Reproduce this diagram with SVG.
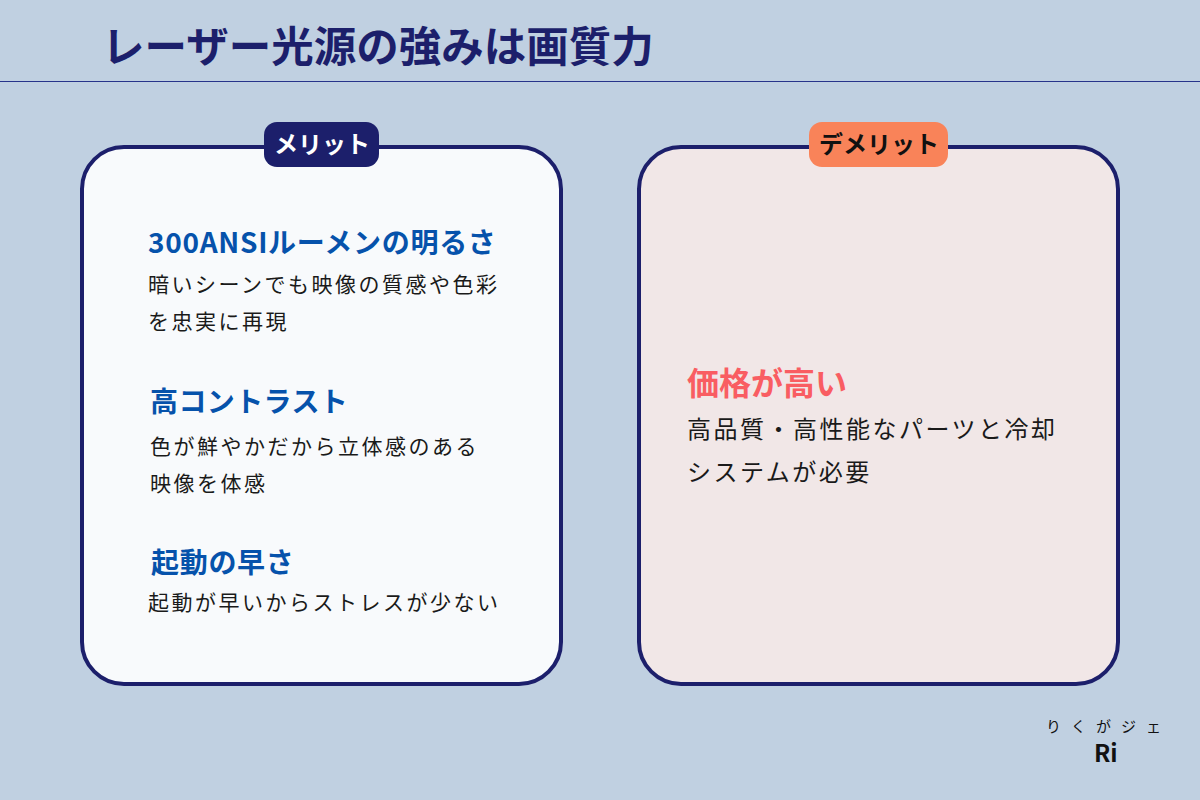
<svg xmlns="http://www.w3.org/2000/svg" width="1200" height="800" viewBox="0 0 1200 800">
<style>
text{font-family:"Noto Sans CJK JP","Noto Sans",sans-serif}
.h{font-weight:700;fill:#0652ab;font-size:28px;letter-spacing:.7px}
.b{font-weight:400;fill:#1a1a1a;font-size:21px;letter-spacing:2.5px}
.d{font-weight:400;fill:#1a1a1a;font-size:24px;letter-spacing:2.5px}
.card{stroke:#1c1f6b;stroke-width:4}
.tag{font-weight:700;font-size:24px;letter-spacing:0}
</style>
<rect width="1200" height="800" fill="#c0d0e1"/>
<g id="title">
<text x="102" y="62" font-size="42.5" font-weight="700" fill="#1c1f6b">レーザー光源の強みは画質力</text>
<rect x="0" y="81" width="1200" height="1" fill="#27338a"/>
</g>
<g id="merit">
<rect class="card" x="82" y="147" width="479" height="537" rx="42" fill="#f8fafc"/>
<rect x="264" y="122" width="115" height="45" rx="13" fill="#1c1f6b"/>
<text class="tag" x="274" y="153" fill="#fff">メリット</text>
<text class="h" x="148" y="253">300ANSIルーメンの明るさ</text>
<text class="b" x="148" y="292">暗いシーンでも映像の質感や色彩</text>
<text class="b" x="148" y="329">を忠実に再現</text>
<text class="h" x="150" y="412" style="letter-spacing:.4px">高コントラスト</text>
<text class="b" x="150" y="454">色が鮮やかだから立体感のある</text>
<text class="b" x="150" y="491">映像を体感</text>
<text class="h" x="151" y="573">起動の早さ</text>
<text class="b" x="148" y="610">起動が早いからストレスが少ない</text>
</g>
<g id="demerit">
<rect class="card" x="639" y="147" width="479" height="537" rx="42" fill="#f1e7e7"/>
<rect x="809" y="122" width="139" height="45" rx="13" fill="#f98359"/>
<text class="tag" x="819" y="153" fill="#111">デメリット</text>
<text x="687" y="395" font-size="32" font-weight="700" fill="#f95d62">価格が高い</text>
<text class="d" x="687" y="438">高品質・高性能なパーツと冷却</text>
<text class="d" x="687" y="481">システムが必要</text>
</g>
<g id="logo">
<text x="1046" y="732" font-size="15" fill="#111" letter-spacing="10">りくがジェ</text>
<text x="1094" y="762" font-size="24" font-weight="700" fill="#111">Ri</text>
</g>
</svg>
